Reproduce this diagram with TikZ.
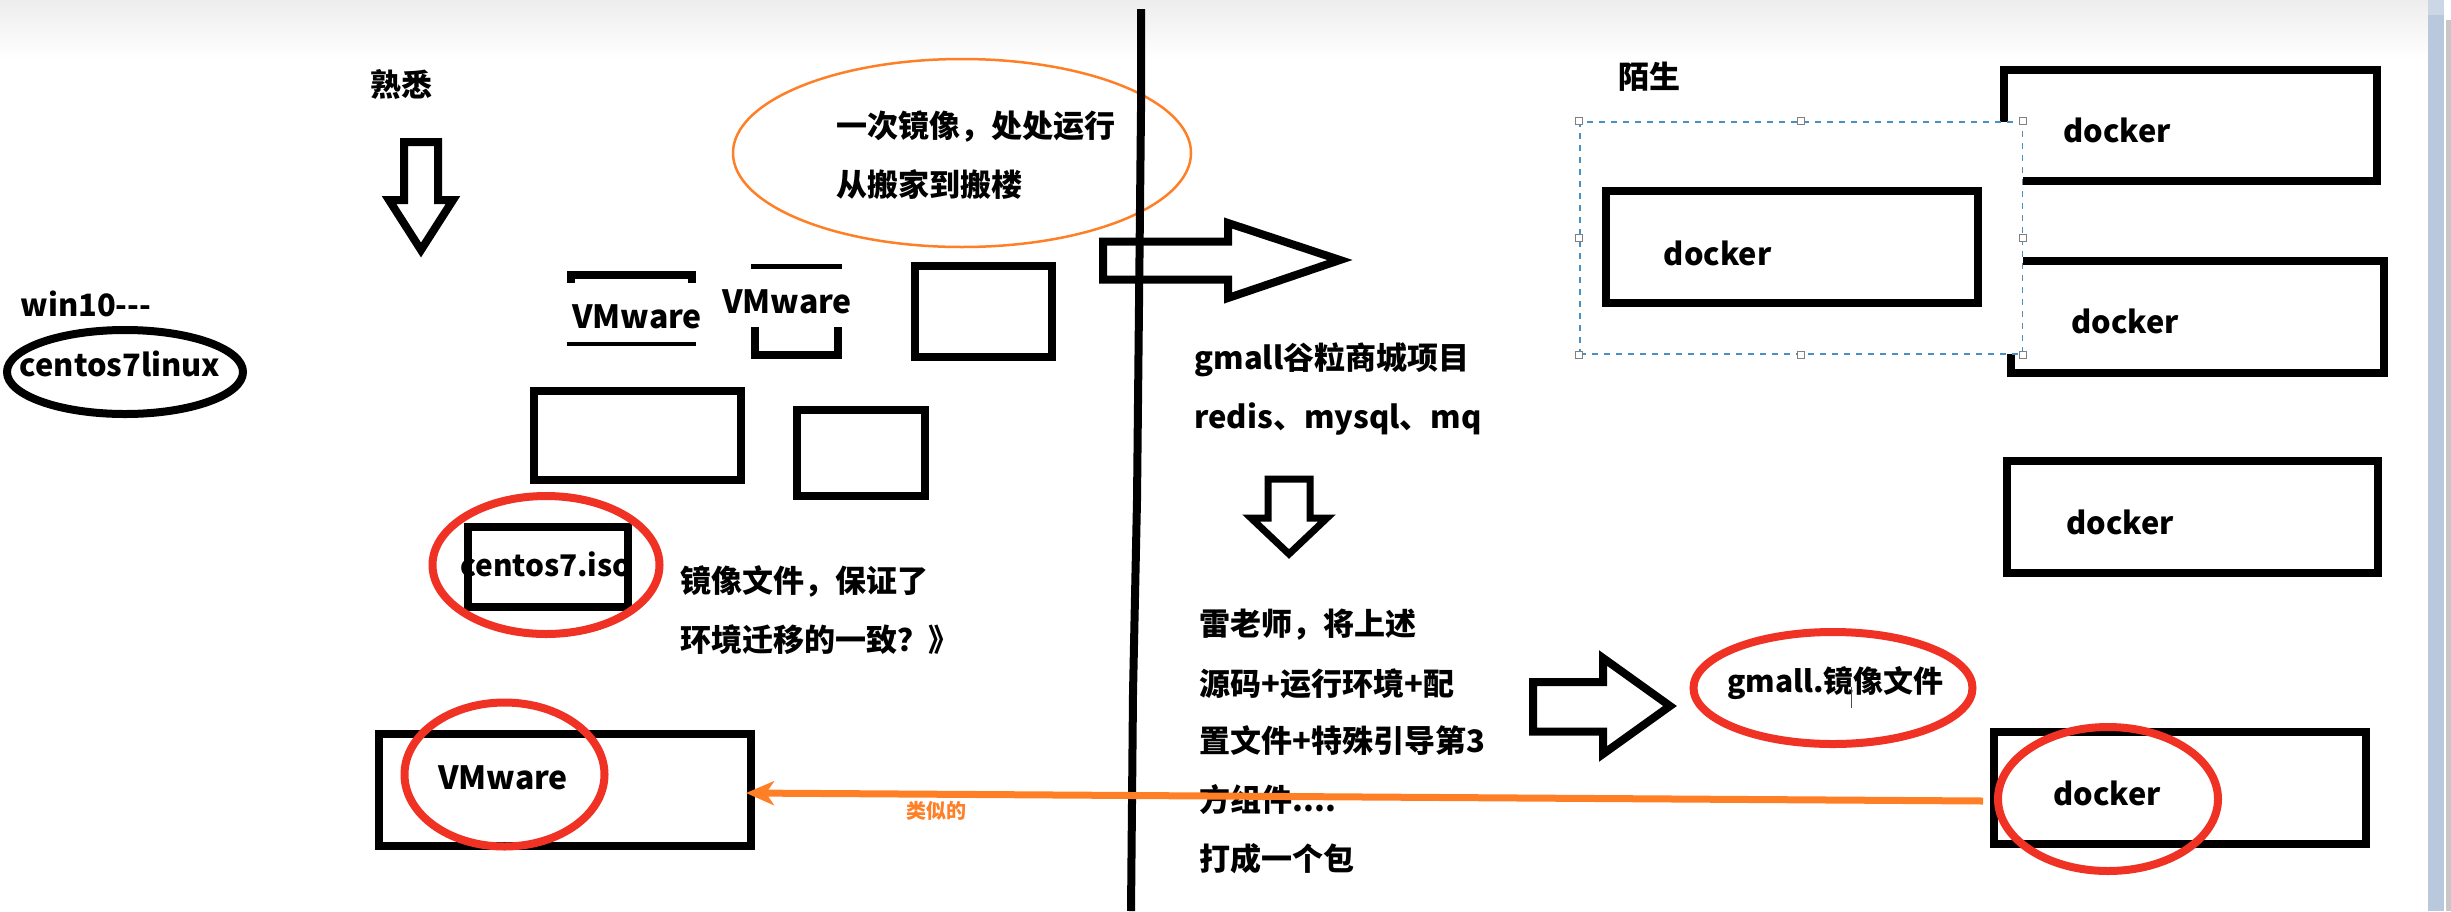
\documentclass[tikz,border=0pt]{standalone}
\usepackage{fontspec}
\setmainfont{Noto Sans CJK SC}
\usetikzlibrary{arrows.meta}
\usetikzlibrary{shapes.geometric}
\definecolor{lineorange}{HTML}{FF7F27}
\definecolor{circlered}{HTML}{F03225}
\definecolor{selectblue}{HTML}{4A90C0}
\definecolor{barblue}{HTML}{B9C9DD}
\definecolor{bartop}{HTML}{CBD7E6}

\begin{document}
\begin{tikzpicture}[
                x=0.5pt, y=-0.5pt,
                labelnode/.style={font=\fontsize{15.5pt}{18pt}\bfseries\selectfont, inner sep=0pt, anchor=west, yshift=-1pt},
                wordnode/.style={font=\fontsize{15.4pt}{18pt}\bfseries\selectfont, inner sep=0pt, yshift=-0.5pt},
                blacksquarednode/.style={rectangle, draw=black, line width=4pt, inner sep=0pt},
                coverednode/.style={rectangle, fill=white, inner sep=0pt},
                redcirclenode/.style={ellipse, draw=circlered, line width=4pt, inner sep=0pt},
                handlenode/.style={rectangle, draw=gray, fill=white, line width=0.5pt, minimum size=3.5pt, inner sep=0pt},
                fatarrow/.style={draw=black, line width=4pt, line join=miter},
                ]
                \useasboundingbox (0,0) rectangle (2451,911);
                \fill[top color=black!7, bottom color=white] (0,0) rectangle (2428,60);
                \fill[barblue] (2428,0) rectangle (2444,911);
                \fill[bartop] (2428,0) rectangle (2444,15);
                \fill[black!22] (2446,20) rectangle (2451,911);

                \node[wordnode] (WinText) at (86,303) {win10{-}{-}{-}};
                \node[ellipse, draw=black, line width=4pt, minimum width=118pt, minimum height=42pt, inner sep=0pt] (LinuxCircle) at (125,372) {};
                \node[wordnode] (LinuxText) at (120,363) {centos7linux};

                \node[labelnode] (Familiar) at (370,82) {熟悉};
                \draw[fatarrow] (404,142) -- (438,142) -- (438,200) -- (453,200) -- (421,250) -- (389,200) -- (404,200) -- cycle;

                \node[blacksquarednode, minimum width=60.5pt, minimum height=33.5pt] (BoxA) at (631.5,308.5) {};
                \node[coverednode, minimum width=75pt, minimum height=29.5pt] (BoxACover) at (637,312.5) {};
                \node[wordnode, font=\fontsize{16pt}{18pt}\bfseries\selectfont] (BoxAText) at (637,316) {VMware};
                \node[blacksquarednode, minimum width=41.5pt, minimum height=43.5pt] (BoxB) at (796.5,311.5) {};
                \node[coverednode, minimum width=68pt, minimum height=29pt] (BoxBCover) at (787,298) {};
                \node[wordnode, font=\fontsize{16pt}{18pt}\bfseries\selectfont] (BoxBText) at (787,301) {VMware};
                \node[blacksquarednode, minimum width=68.5pt, minimum height=45.5pt] (BoxC) at (983.5,311.5) {};
                \node[blacksquarednode, minimum width=103.5pt, minimum height=44.5pt] (BoxD) at (637.5,435.5) {};
                \node[blacksquarednode, minimum width=64pt, minimum height=43pt] (BoxE) at (861,453) {};

                \node[wordnode, font=\fontsize{14.9pt}{18pt}\bfseries\selectfont] (IsoText) at (546,563) {centos7.iso};
                \node[blacksquarednode, minimum width=79.75pt, minimum height=40pt] (IsoBox) at (548,567) {};
                \node[labelnode] (IsoNoteA) at (680,579) {镜像文件，保证了};
                \node[labelnode] (IsoNoteB) at (680,638) {环境迁移的一致？》};

                \node[blacksquarednode, minimum width=186pt, minimum height=56pt] (VmBox) at (565,790) {};
                \node[wordnode, font=\fontsize{16pt}{18pt}\bfseries\selectfont] (VmText) at (503,777) {VMware};

                \draw[draw=lineorange, line width=1.25pt] (962,153) ellipse (229 and 94);
                \node[labelnode] (SloganA) at (836,125) {一次镜像，处处运行};
                \node[labelnode] (SloganB) at (836,183) {从搬家到搬楼};

                \draw[black, line width=4pt] (1141,9) -- (1141,110) -- (1139,305) -- (1137,500) -- (1133,693) -- (1131,911);
                \draw[fatarrow] (1103,241.5) -- (1228,241.5) -- (1228,223) -- (1340,260) -- (1228,298) -- (1228,279.5) -- (1103,279.5) -- cycle;

                \node[labelnode] (MallA) at (1194,358) {gmall谷粒商城项目};
                \node[labelnode] (MallB) at (1194,417) {redis、mysql、mq};
                \draw[fatarrow, line width=3.5pt] (1268,479) -- (1310,479) -- (1310,518) -- (1327,518) -- (1289,554) -- (1251,518) -- (1268,518) -- cycle;

                \node[labelnode] (PackA) at (1199,623) {雷老师，将上述};
                \node[labelnode] (PackB) at (1199,682) {源码+运行环境+配};
                \node[labelnode] (PackC) at (1199,739) {置文件+特殊引导第3};
                \node[labelnode] (PackD) at (1199,798) {方组件....};
                \node[labelnode] (PackE) at (1199,857) {打成一个包};

                \draw[fatarrow] (1533,682) -- (1603,682) -- (1603,658) -- (1670,706) -- (1603,754) -- (1603,731.5) -- (1533,731.5) -- cycle;

                \node[redcirclenode, minimum width=113.5pt, minimum height=69pt] (IsoCircle) at (546,565) {};
                \node[redcirclenode, minimum width=100pt, minimum height=72pt] (VmCircle) at (504.5,774.5) {};

                \node[labelnode] (Strange) at (1618,75) {陌生};
                \node[blacksquarednode, minimum width=186.5pt, minimum height=55.5pt] (DockerA) at (2190.5,125.5) {};
                \node[blacksquarednode, minimum width=186.5pt, minimum height=56pt] (DockerB) at (2197.5,317) {};
                \node[rectangle, draw=selectblue, fill=white, dashed, line width=0.6pt, minimum width=221.3pt, minimum height=116pt, inner sep=0pt] (Selected) at (1801.3,238) {};
                \node[handlenode] (HandleA) at (Selected.north west) {};
                \node[handlenode] (HandleB) at (Selected.north) {};
                \node[handlenode] (HandleC) at (Selected.north east) {};
                \node[handlenode] (HandleD) at (Selected.west) {};
                \node[handlenode] (HandleE) at (Selected.east) {};
                \node[handlenode] (HandleF) at (Selected.south west) {};
                \node[handlenode] (HandleG) at (Selected.south) {};
                \node[handlenode] (HandleH) at (Selected.south east) {};
                \node[blacksquarednode, minimum width=186pt, minimum height=56pt] (DockerC) at (1792,247) {};
                \node[blacksquarednode, minimum width=185.5pt, minimum height=56pt] (DockerD) at (2192.5,517) {};
                \node[blacksquarednode, minimum width=186pt, minimum height=56pt] (DockerE) at (2180,788) {};

                \node[wordnode] (DockerAText) at (2117,129) {docker};
                \node[wordnode] (DockerBText) at (2125,320) {docker};
                \node[wordnode] (DockerCText) at (1717.5,252) {docker};
                \node[wordnode] (DockerDText) at (2120,521) {docker};
                \node[wordnode] (DockerEText) at (2107,792) {docker};

                \node[wordnode, font=\fontsize{15pt}{18pt}\bfseries\selectfont] (GmallText) at (1835.5,682) {gmall.镜像文件};
                \node[redcirclenode, minimum width=139.5pt, minimum height=56pt] (GmallCircle) at (1833,688) {};
                \node[redcirclenode, minimum width=110pt, minimum height=72pt] (DockerCircle) at (2108,799) {};
                \draw[black!70, line width=0.5pt] (1851,687) -- (1851,708);

                \coordinate (SimilarStart) at (1983,801);
                \coordinate (SimilarEnd) at (746,793);
                \draw[-{Stealth[length=14pt, width=12pt, inset=4pt]}, lineorange, line width=3.5pt] (SimilarStart) -- (SimilarEnd);
                \node[font=\fontsize{10pt}{12pt}\bfseries\selectfont, text=lineorange, inner sep=0pt] (SimilarText) at (936,811) {类似的};
            \end{tikzpicture}
\end{document}
